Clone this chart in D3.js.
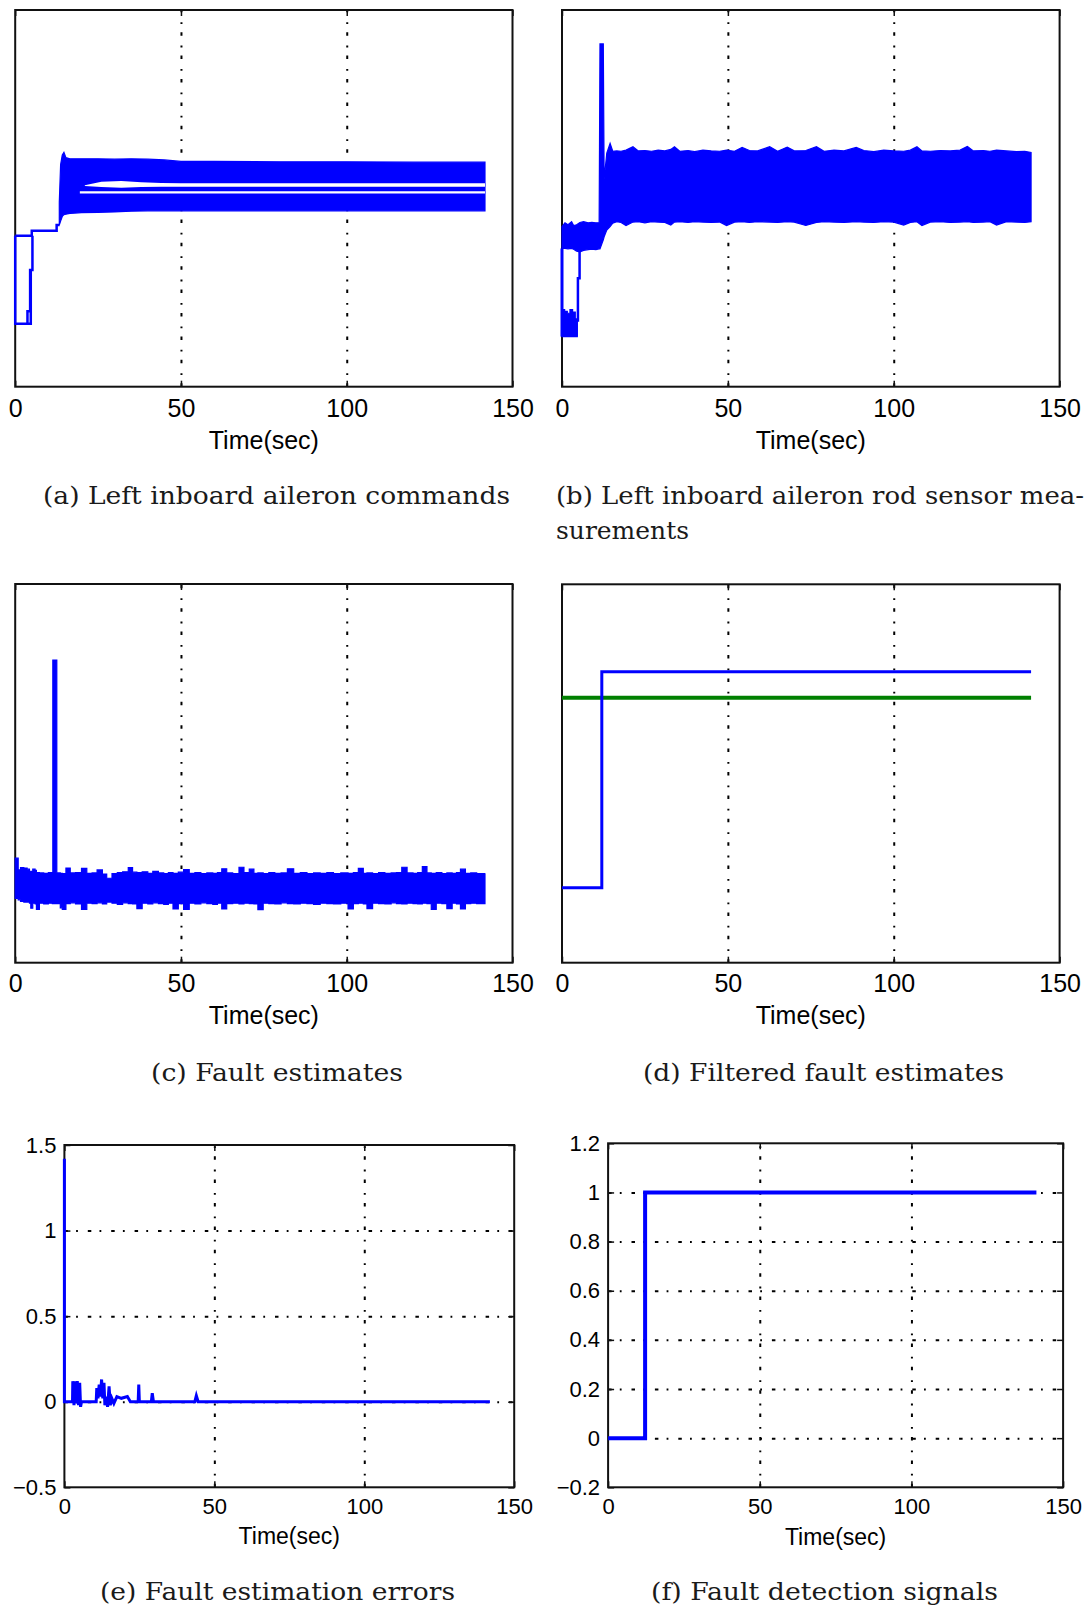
<!DOCTYPE html>
<html>
<head>
<meta charset="utf-8">
<script src="https://cdn.jsdelivr.net/npm/d3@7"></script>
<style>
  body { margin: 0; background: #fff; }
</style>
</head>
<body>
<div id="fig"></div>
<script>
// ---- data ----
// (a)-(d) have no y tick labels, so their y values are in arbitrary units 0..10
var xTicks = [0, 50, 100, 150];
var xGrid = [50, 100];

// (a) left inboard aileron commands: step lines before the fault, then a band
var aHigh = [[0, 4.01], [5.0, 4.01], [5.0, 4.14], [12.5, 4.14], [12.5, 4.29], [13.4, 4.29]];
var aLow1 = [[0, 4.01], [0, 1.67], [4.7, 1.67], [4.7, 3.1]];
var aLow2 = [[3.7, 1.67], [3.7, 2.0], [4.5, 2.0], [4.5, 3.1], [5.2, 3.1], [5.2, 4.01]];
// band rows: [time, top, bottom]
var aBand = [[13.3, 4.90, 4.29], [13.7, 5.90, 4.40], [14.2, 6.15, 4.52], [14.7, 6.22, 4.57],
    [15.3, 6.08, 4.58], [16.5, 6.05, 4.60], [18, 6.05, 4.61], [20, 6.05, 4.62], [25, 6.05, 4.63],
    [30, 6.04, 4.64], [35, 6.05, 4.66], [40, 6.04, 4.67], [45, 6.02, 4.67], [50, 5.98, 4.67],
    [60, 5.98, 4.67], [80, 5.97, 4.67], [100, 5.97, 4.67], [120, 5.96, 4.67], [141.7, 5.96, 4.67]];
// white streaks inside the band (where the curves do not overlap)
var aGap1 = [[21, 5.35, 5.33], [26, 5.44, 5.30], [32, 5.46, 5.28], [38, 5.43, 5.30],
    [44, 5.41, 5.31], [50, 5.40, 5.31], [141.7, 5.40, 5.31]];
var aGap2 = [[19.5, 5.19, 5.13], [141.7, 5.19, 5.13]];

// (b) rod sensor measurements
var bLow = [[0, 2.05, 1.33], [0.8, 2.0, 1.33], [1.6, 1.95, 1.33], [2.4, 2.05, 1.33],
    [3.2, 1.98, 1.33], [4.0, 1.8, 1.33], [4.6, 1.76, 1.33]];
var bLeftEdge = [[0, 3.67], [0, 1.33]];
var bRise = [[4.4, 1.33], [4.4, 1.76], [4.8, 1.76], [4.8, 2.88], [5.3, 2.88], [5.3, 3.63]];
var bBand = [[0, 4.25, 3.67], [0.9, 4.35, 3.67], [1.8, 4.30, 3.66], [2.9, 4.38, 3.67],
    [3.5, 4.28, 3.65], [4.4, 4.30, 3.60], [5.4, 4.36, 3.58], [6.5, 4.38, 3.62], [7.9, 4.35, 3.64],
    [9.0, 4.36, 3.65], [10.2, 4.35, 3.64], [11.2, 4.35, 3.66], [11.45, 9.10, 3.66], [12.45, 9.10, 3.90],
    [12.7, 5.50, 3.98], [13.5, 6.20, 4.16], [14.5, 6.46, 4.25], [15.3, 6.25, 4.34], [16.5, 6.26, 4.38],
    [17.8, 6.25, 4.36], [19.3, 6.28, 4.28], [21.4, 6.37, 4.37], [23, 6.26, 4.38], [25, 6.27, 4.35],
    [27, 6.25, 4.38], [29, 6.28, 4.37], [31, 6.26, 4.36], [32.8, 6.30, 4.29], [33.9, 6.37, 4.37],
    [35.5, 6.25, 4.38], [38, 6.27, 4.36], [40, 6.24, 4.38], [42.5, 6.28, 4.37], [45, 6.26, 4.36],
    [47.5, 6.25, 4.37], [49.6, 6.28, 4.28], [52, 6.25, 4.37], [54.3, 6.35, 4.38], [56.5, 6.27, 4.36],
    [59, 6.26, 4.38], [62.6, 6.37, 4.37], [65, 6.25, 4.36], [67.9, 6.36, 4.38], [70, 6.26, 4.37],
    [73.5, 6.27, 4.28], [76.7, 6.37, 4.36], [79, 6.25, 4.38], [82, 6.28, 4.37], [85, 6.26, 4.36],
    [88.7, 6.35, 4.38], [91, 6.27, 4.37], [94, 6.24, 4.36], [97, 6.28, 4.38], [100, 6.26, 4.37],
    [103, 6.25, 4.29], [105, 6.28, 4.36], [107, 6.37, 4.38], [108.5, 6.26, 4.28], [111, 6.25, 4.37],
    [114, 6.27, 4.38], [117, 6.26, 4.36], [120, 6.28, 4.37], [122.2, 6.38, 4.38], [124, 6.26, 4.36],
    [127, 6.27, 4.37], [129, 6.25, 4.38], [131, 6.28, 4.29], [134, 6.26, 4.38], [137, 6.24, 4.37],
    [139.5, 6.25, 4.36], [141.4, 6.22, 4.38]];

// (c) fault estimates
var cBand = [[0, 2.76, 1.70], [0.6, 2.76, 1.70], [0.9, 2.45, 1.66], [1.6, 2.51, 1.62], [2.6, 2.50, 1.60],
    [3.6, 2.47, 1.60], [4.3, 2.40, 1.57], [4.7, 2.41, 1.44], [5.3, 2.47, 1.57], [6.0, 2.44, 1.55],
    [6.4, 2.38, 1.41], [7.3, 2.37, 1.57], [8.6, 2.36, 1.55], [10.0, 2.38, 1.57], [11.2, 2.37, 1.56],
    [11.35, 7.99, 1.56], [12.4, 7.99, 1.57], [12.55, 2.37, 1.56], [13.6, 2.36, 1.45], [14.2, 2.35, 1.41],
    [15.3, 2.50, 1.56], [16.6, 2.37, 1.58], [18.2, 2.38, 1.55], [20.0, 2.49, 1.41], [21.6, 2.36, 1.57],
    [23.2, 2.37, 1.56], [24.7, 2.45, 1.58], [26.3, 2.34, 1.55], [27.6, 2.23, 1.60], [29.2, 2.35, 1.57],
    [30.8, 2.38, 1.54], [32.4, 2.40, 1.58], [34.1, 2.51, 1.56], [35.4, 2.39, 1.55], [36.7, 2.38, 1.43],
    [38.3, 2.40, 1.57], [40.0, 2.36, 1.55], [41.5, 2.41, 1.58], [43.2, 2.37, 1.56], [44.8, 2.35, 1.54],
    [46.2, 2.38, 1.57], [47.6, 2.36, 1.42], [49.2, 2.39, 1.56], [50.8, 2.46, 1.41], [52.5, 2.36, 1.57],
    [54.2, 2.38, 1.55], [56.0, 2.35, 1.58], [57.8, 2.37, 1.56], [59.6, 2.36, 1.54], [61.0, 2.38, 1.57],
    [62.3, 2.48, 1.42], [63.8, 2.37, 1.56], [65.6, 2.35, 1.57], [67.5, 2.52, 1.55], [69.0, 2.38, 1.57],
    [70.6, 2.47, 1.56], [72.0, 2.36, 1.55], [73.2, 2.37, 1.40], [74.8, 2.35, 1.57], [76.5, 2.38, 1.56],
    [78.3, 2.36, 1.55], [80.2, 2.37, 1.58], [82.1, 2.48, 1.56], [84.0, 2.36, 1.55], [86.0, 2.38, 1.57],
    [88.0, 2.35, 1.56], [90.0, 2.37, 1.54], [92.0, 2.36, 1.57], [94.0, 2.38, 1.56], [96.0, 2.35, 1.55],
    [98.2, 2.37, 1.57], [100.4, 2.36, 1.42], [102.0, 2.38, 1.56], [103.5, 2.49, 1.57], [105.0, 2.36, 1.55],
    [106.1, 2.37, 1.43], [107.8, 2.35, 1.57], [109.6, 2.38, 1.56], [111.5, 2.36, 1.55], [113.4, 2.37, 1.58],
    [115.0, 2.38, 1.56], [116.6, 2.52, 1.55], [118.2, 2.37, 1.57], [120.0, 2.36, 1.56], [121.4, 2.38, 1.55],
    [122.8, 2.54, 1.57], [124.2, 2.37, 1.56], [125.5, 2.36, 1.41], [127.0, 2.38, 1.57], [128.7, 2.35, 1.56],
    [130.2, 2.37, 1.43], [131.8, 2.36, 1.57], [133.1, 2.38, 1.55], [134.3, 2.47, 1.42], [135.8, 2.36, 1.56],
    [137.4, 2.37, 1.57], [139.2, 2.35, 1.56], [141.7, 2.36, 1.57]];

// (d) filtered fault estimates
var dBlue = [[0, 1.98], [12.0, 1.98], [12.0, 7.69], [141.4, 7.69]];
var dGreen = [[0, 7.00], [141.4, 7.00]];

// (e) fault estimation errors
var eYTicks = [-0.5, 0, 0.5, 1, 1.5];
var eYLabels = ["\u22120.5", "0", "0.5", "1", "1.5"];
var eErr = [[0, 1.42], [0, 0], [2.7, 0], [2.8, 0.12], [3.2, -0.02], [3.5, 0.12], [3.9, -0.01],
    [4.3, 0.12], [4.7, -0.02], [5.1, 0.11], [5.4, -0.03], [5.7, 0], [10.6, 0], [10.8, 0.08],
    [11.2, 0.02], [11.6, 0.10], [12.0, 0.03], [12.4, 0.13], [12.8, 0.02], [13.2, 0.11], [13.5, -0.02],
    [14.0, 0.03], [14.4, -0.03], [14.9, 0.09], [15.3, -0.02], [15.8, 0.02], [16.5, -0.01], [17.5, 0.03],
    [19.0, 0.02], [21.0, 0.03], [22.0, 0], [24.6, 0], [24.8, 0.10], [25.0, 0], [29.0, 0], [29.3, 0.05],
    [29.7, 0], [43.5, 0], [44.0, 0.035], [44.6, 0], [141.9, 0]];

// (f) fault detection signals
var fYTicks = [-0.2, 0, 0.2, 0.4, 0.6, 0.8, 1, 1.2];
var fYLabels = ["\u22120.2", "0", "0.2", "0.4", "0.6", "0.8", "1", "1.2"];
var fSignal = [[0, 0], [12.2, 0], [12.2, 1], [141.2, 1]];

var captions = [
    { text: "(a) Left inboard aileron commands", x: 43, y: 504, w: 467 },
    { text: "(b) Left inboard aileron rod sensor mea-", x: 556, y: 504, w: 528 },
    { text: "surements", x: 556, y: 539, w: 133 },
    { text: "(c) Fault estimates", x: 151, y: 1081, w: 252 },
    { text: "(d) Filtered fault estimates", x: 643, y: 1081, w: 361 },
    { text: "(e) Fault estimation errors", x: 100, y: 1600, w: 355 },
    { text: "(f) Fault detection signals", x: 651, y: 1600, w: 347 }
];

// ---- drawing ----
var BLUE = "#0000ff", GREEN = "#008000";
var SANS = "'Liberation Sans', Arial, sans-serif";

var svg = d3.select("#fig").append("svg")
    .attr("width", 1086)
    .attr("height", 1609);

// Builds one axes box with its scales, grid and tick labels
function makePanel(p) {
    var x = d3.scaleLinear().domain([0, 150]).range([p.left, p.right]);
    var y = d3.scaleLinear().domain(p.yDomain).range([p.bottom, p.top]);
    var g = svg.append("g");
    var h = p.bottom - p.top, w = p.right - p.left;

    // dotted grid, MATLAB ':' style
    var vg = g.append("g")
        .attr("transform", "translate(0," + p.bottom + ")")
        .call(d3.axisBottom(x).tickValues(xGrid).tickSize(-h).tickFormat(""));
    vg.select(".domain").remove();
    vg.selectAll("line").attr("stroke", "#000").attr("stroke-width", 2)
        .attr("stroke-dasharray", "3.5,8.2,1.8,9.9");

    if (p.yGrid) {
        var hg = g.append("g")
            .attr("transform", "translate(" + p.left + ",0)")
            .call(d3.axisLeft(y).tickValues(p.yGrid).tickSize(-w).tickFormat(""));
        hg.select(".domain").remove();
        hg.selectAll("line").attr("stroke", "#000").attr("stroke-width", 2)
            .attr("stroke-dasharray", "3.5,8.2,1.8,9.9");
    }

    // box
    g.append("rect")
        .attr("x", p.left).attr("y", p.top)
        .attr("width", w).attr("height", h)
        .attr("fill", "none").attr("stroke", "#111").attr("stroke-width", 2);

    // x ticks (inside) and labels
    var xa = g.append("g")
        .attr("transform", "translate(0," + p.bottom + ")")
        .call(d3.axisBottom(x).tickValues(xTicks).tickSizeInner(-6).tickSizeOuter(0)
            .tickPadding(p.xPad).tickFormat(d3.format("d")));
    xa.select(".domain").remove();
    xa.selectAll("line").attr("stroke", "#111").attr("stroke-width", 1.5);
    xa.selectAll("text").attr("font-family", SANS).attr("font-size", p.fs).attr("fill", "#000");

    var xt = g.append("g")
        .attr("transform", "translate(0," + p.top + ")")
        .call(d3.axisTop(x).tickValues(xTicks).tickSizeInner(-6).tickSizeOuter(0).tickFormat(""));
    xt.select(".domain").remove();
    xt.selectAll("line").attr("stroke", "#111").attr("stroke-width", 1.5);

    if (p.yTicks) {
        var ya = g.append("g")
            .attr("transform", "translate(" + p.left + ",0)")
            .call(d3.axisLeft(y).tickValues(p.yTicks).tickSizeInner(-6).tickSizeOuter(0)
                .tickPadding(8).tickFormat(function (d, i) { return p.yLabels[i]; }));
        ya.select(".domain").remove();
        ya.selectAll("line").attr("stroke", "#111").attr("stroke-width", 1.5);
        ya.selectAll("text").attr("font-family", SANS).attr("font-size", p.fs).attr("fill", "#000");

        var yr = g.append("g")
            .attr("transform", "translate(" + p.right + ",0)")
            .call(d3.axisRight(y).tickValues(p.yTicks).tickSizeInner(-6).tickSizeOuter(0).tickFormat(""));
        yr.select(".domain").remove();
        yr.selectAll("line").attr("stroke", "#111").attr("stroke-width", 1.5);
    }

    // x axis title
    g.append("text")
        .attr("x", (p.left + p.right) / 2)
        .attr("y", p.titleY)
        .attr("text-anchor", "middle")
        .attr("font-family", SANS)
        .attr("font-size", p.titleFs)
        .attr("fill", "#000")
        .text("Time(sec)");

    return { g: g, x: x, y: y };
}

function drawLine(P, data, color, width) {
    var line = d3.line().x(function (d) { return P.x(d[0]); }).y(function (d) { return P.y(d[1]); });
    P.g.append("path").datum(data)
        .attr("fill", "none").attr("stroke", color).attr("stroke-width", width)
        .attr("stroke-linejoin", "miter").attr("d", line);
}

// band = filled area between the bottom and top envelopes
function drawBand(P, data, color, curve) {
    var area = d3.area()
        .curve(curve || d3.curveLinear)
        .x(function (d) { return P.x(d[0]); })
        .y0(function (d) { return P.y(d[2]); })
        .y1(function (d) { return P.y(d[1]); });
    P.g.append("path").datum(data)
        .attr("fill", color).attr("stroke", color).attr("stroke-width", color == "#fff" ? 0 : 1.2)
        .attr("d", area);
}

// (a)
var pa = makePanel({ left: 15.2, right: 512.5, top: 10, bottom: 386.7, yDomain: [0, 10],
    xPad: 13, fs: 25, titleY: 448.5, titleFs: 25 });
drawLine(pa, aHigh, BLUE, 2.5);
drawLine(pa, aLow1, BLUE, 2.5);
drawLine(pa, aLow2, BLUE, 2.5);
drawBand(pa, aBand, BLUE);
drawBand(pa, aGap1, "#fff");
drawBand(pa, aGap2, "#fff");

// (b)
var pb = makePanel({ left: 562, right: 1059.6, top: 10, bottom: 386.7, yDomain: [0, 10],
    xPad: 13, fs: 25, titleY: 448.5, titleFs: 25 });
drawBand(pb, bLow, BLUE, d3.curveStepAfter);
drawLine(pb, bLeftEdge, BLUE, 3);
drawLine(pb, bRise, BLUE, 2.5);
drawBand(pb, bBand, BLUE);

// (c)
var pc = makePanel({ left: 15.2, right: 512.5, top: 584, bottom: 962.7, yDomain: [0, 10],
    xPad: 12, fs: 25, titleY: 1024, titleFs: 25 });
drawBand(pc, cBand, BLUE, d3.curveStepAfter);

// (d)
var pd = makePanel({ left: 562, right: 1059.6, top: 584.3, bottom: 962.7, yDomain: [0, 10],
    xPad: 12, fs: 25, titleY: 1024, titleFs: 25 });
drawLine(pd, dGreen, GREEN, 4);
drawLine(pd, dBlue, BLUE, 3);

// (e)
var pe = makePanel({ left: 64.4, right: 514.2, top: 1145, bottom: 1487.3, yDomain: [-0.5, 1.5],
    yTicks: eYTicks, yLabels: eYLabels, yGrid: [0, 0.5, 1],
    xPad: 11, fs: 22, titleY: 1543.5, titleFs: 23 });
drawLine(pe, eErr, BLUE, 3);

// (f)
var pf = makePanel({ left: 608.1, right: 1063.1, top: 1143.3, bottom: 1487.3, yDomain: [-0.2, 1.2],
    yTicks: fYTicks, yLabels: fYLabels, yGrid: [0, 0.2, 0.4, 0.6, 0.8, 1],
    xPad: 11, fs: 22, titleY: 1545, titleFs: 23 });
drawLine(pf, fSignal, BLUE, 4);

// sub-figure captions
svg.selectAll("text.cap")
    .data(captions)
    .enter().append("text")
    .attr("class", "cap")
    .attr("x", function (d) { return d.x; })
    .attr("y", function (d) { return d.y; })
    .attr("textLength", function (d) { return d.w; })
    .attr("lengthAdjust", "spacingAndGlyphs")
    .attr("font-family", "'DejaVu Serif', serif")
    .attr("font-size", 24)
    .attr("fill", "#1a1a1a")
    .text(function (d) { return d.text; });
</script>
</body>
</html>
